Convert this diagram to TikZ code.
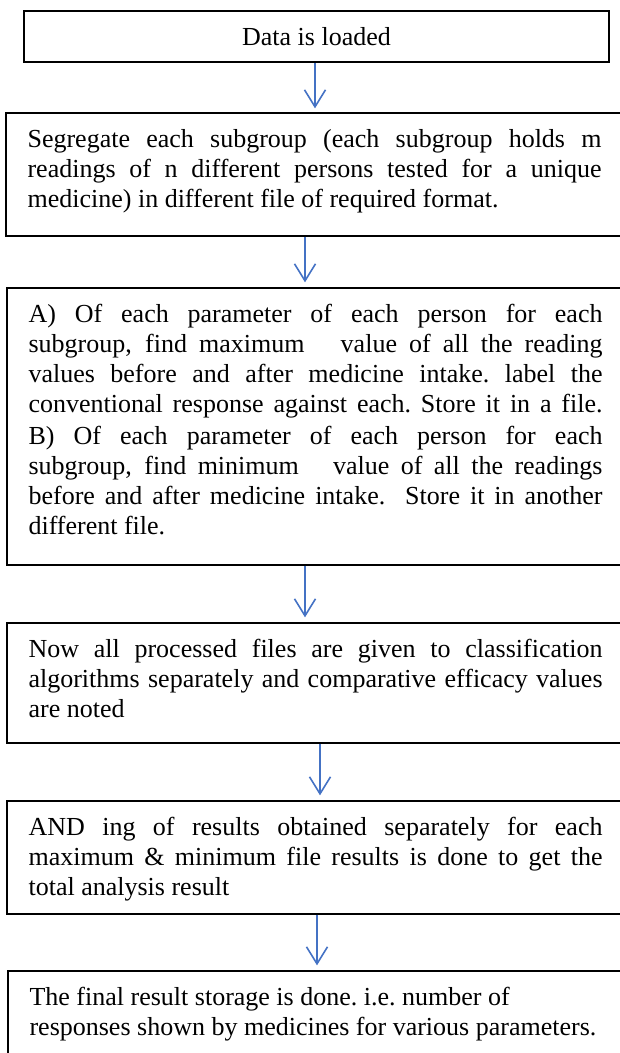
\documentclass[tikz,border=0pt]{standalone}
\usepackage{fontspec}
\setmainfont{Liberation Serif}
\usetikzlibrary{arrows.meta,calc}
\definecolor{arrblue}{RGB}{68,114,196}
\newcommand{\fullline}[1]{\hbox to 574pt{\spaceskip=6.5pt plus 1fil\xspaceskip=6.5pt plus 1fil\relax #1}\par}
\newcommand{\plainline}[1]{\hbox to 574pt{\spaceskip=6.5pt plus 1fil\xspaceskip=6.5pt plus 1fil\relax #1\hfill}\par}
\begin{document}
\begin{tikzpicture}[x=1pt,y=-1pt,
  box/.style={draw=black, line width=1.3pt, inner sep=0pt, rectangle},
  topbox/.style={box, line width=2.2pt, font=\fontsize{26}{30}\selectfont},
  txt/.style={inner sep=0pt, text width=574pt, anchor=base west, font=\fontsize{26}{30}\selectfont},
  arr/.style={draw=arrblue, line width=1.6pt, -{Straight Barb[length=17pt,width=21pt,line width=1.6pt]}}
]
\useasboundingbox (0,0) rectangle (620,1053);

\node[topbox, minimum width=585pt, minimum height=51pt] (b1) at (316.5,36.5) {Data is loaded};

\node[box, minimum width=618pt, minimum height=123pt] (b2) at (315,174.5) {};
\node[box, minimum width=617pt, minimum height=277pt] (b3) at (315.5,426.5) {};
\node[box, minimum width=617pt, minimum height=120pt] (b4) at (315.5,683) {};
\node[box, minimum width=617pt, minimum height=113pt] (b5) at (315.5,857.5) {};
\node[box, minimum width=616pt, minimum height=94pt] (b6) at (316,1018) {};

\node[txt] (t2) at ($(b2.north west)+(22,35)$) {%
\fullline{Segregate each subgroup (each subgroup holds m}%
\fullline{readings of n different persons tested for a unique}%
\plainline{medicine) in different file of required format.}};

\node[txt] (t3) at ($(b3.north west)+(22,35)$) {%
\fullline{A) Of each parameter of each person for each}%
\fullline{subgroup, find maximum\ \ \ value of all the reading}%
\fullline{values before and after medicine intake. label the}%
\fullline{conventional response against each. Store it in a file.}%
\vspace{2pt}%
\fullline{B) Of each parameter of each person for each}%
\fullline{subgroup, find minimum\ \ \ value of all the readings}%
\fullline{before and after medicine intake.\ \ Store it in another}%
\plainline{different file.}};

\node[txt] (t4) at ($(b4.north west)+(22,35)$) {%
\fullline{Now all processed files are given to classification}%
\fullline{algorithms separately and comparative efficacy values}%
\plainline{are noted}};

\node[txt] (t5) at ($(b5.north west)+(22,35)$) {%
\fullline{AND ing of results obtained separately for each}%
\fullline{maximum \& minimum file results is done to get the}%
\plainline{total analysis result}};

\node[txt] (t6) at ($(b6.north west)+(22,35)$) {%
\plainline{The final result storage is done. i.e. number of}%
\plainline{responses shown by medicines for various parameters.}};

\coordinate (x1) at (315,0);
\coordinate (x2) at (305,0);
\coordinate (x3) at (305,0);
\coordinate (x4) at (320,0);
\coordinate (x5) at (317,0);

\draw[arr] (b1.south -| x1) -- ($(b2.north -| x1)+(0,-4)$);
\draw[arr] (b2.south -| x2) -- ($(b3.north -| x2)+(0,-5)$);
\draw[arr] (b3.south -| x3) -- ($(b4.north -| x3)+(0,-5)$);
\draw[arr] (b4.south -| x4) -- ($(b5.north -| x4)+(0,-5)$);
\draw[arr] (b5.south -| x5) -- ($(b6.north -| x5)+(0,-5)$);
\end{tikzpicture}
\end{document}
